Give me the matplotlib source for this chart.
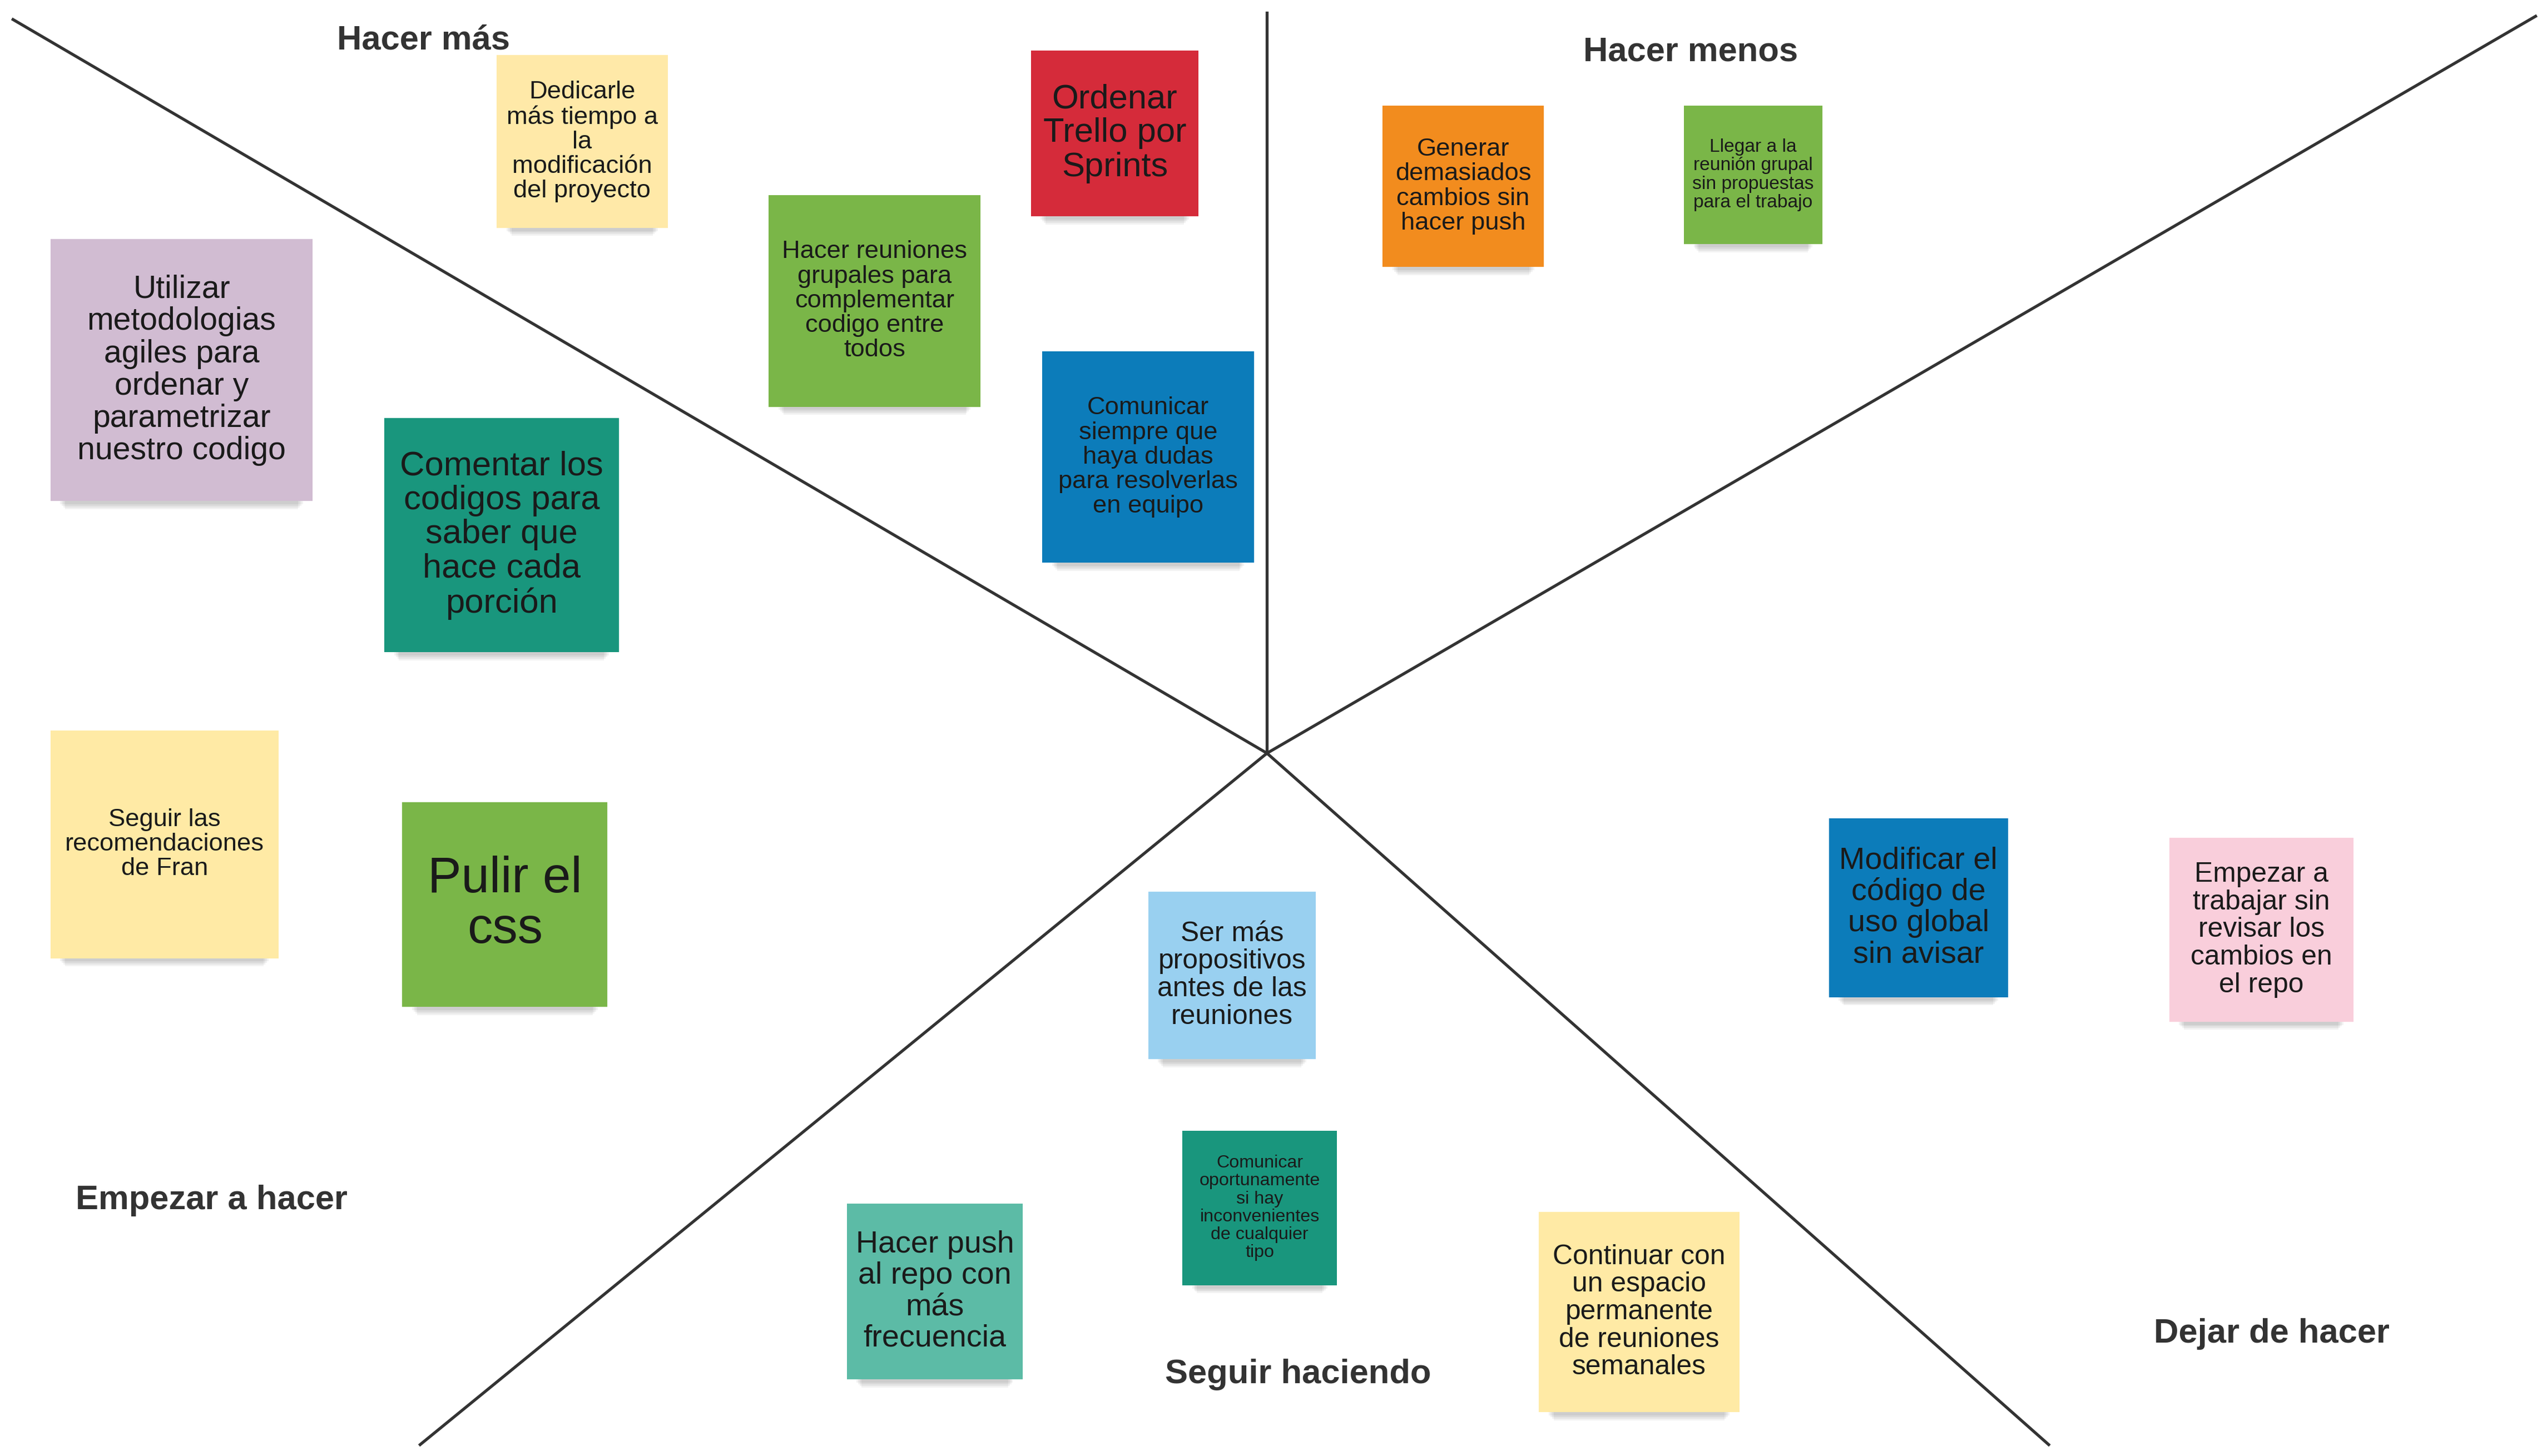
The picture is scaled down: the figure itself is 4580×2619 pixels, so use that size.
import matplotlib.pyplot as plt
from matplotlib.patches import Rectangle

# reference drawn in a 1564 x 895 coordinate space
W, H = 1564, 895
S = 4580 / W
PT = S * 0.72  # px in ref space -> points at dpi 100

center = (778, 463)
line_ends = [(8, 12), (778, 8), (1557, 10), (258, 888), (1258, 888)]

section_labels = ["Hacer más", "Hacer menos", "Empezar a hacer", "Seguir haciendo", "Dejar de hacer"]
label_pos = [(260, 25), (1038, 32), (130, 738), (797, 845), (1395, 820)]

note_texts = [
    "Dedicarle\nmás tiempo a\nla\nmodificación\ndel proyecto",
    "Ordenar\nTrello por\nSprints",
    "Hacer reuniones\ngrupales para\ncomplementar\ncodigo entre\ntodos",
    "Comunicar\nsiempre que\nhaya dudas\npara resolverlas\nen equipo",
    "Generar\ndemasiados\ncambios sin\nhacer push",
    "Llegar a la\nreunión grupal\nsin propuestas\npara el trabajo",
    "Utilizar\nmetodologias\nagiles para\nordenar y\nparametrizar\nnuestro codigo",
    "Comentar los\ncodigos para\nsaber que\nhace cada\nporción",
    "Seguir las\nrecomendaciones\nde Fran",
    "Pulir el\ncss",
    "Ser más\npropositivos\nantes de las\nreuniones",
    "Comunicar\noportunamente\nsi hay\ninconvenientes\nde cualquier\ntipo",
    "Hacer push\nal repo con\nmás\nfrecuencia",
    "Continuar con\nun espacio\npermanente\nde reuniones\nsemanales",
    "Modificar el\ncódigo de\nuso global\nsin avisar",
    "Empezar a\ntrabajar sin\nrevisar los\ncambios en\nel repo",
]
note_boxes = [  # x, y, w, h
    (305, 34, 105, 106), (633, 31, 103, 102), (472, 120, 130, 130), (640, 216, 130, 130),
    (849, 65, 99, 99), (1034, 65, 85, 85), (31, 147, 161, 161), (236, 257, 144, 144),
    (31, 449, 140, 140), (247, 493, 126, 126), (705, 548, 103, 103), (726, 695, 95, 95),
    (520, 740, 108, 108), (945, 745, 123, 123), (1123, 503, 110, 110), (1332, 515, 113, 113),
]
note_colors = [
    "#FFE9A8", "#D52B3A", "#7AB648", "#0C7CBA", "#F28C1E", "#7AB648", "#D1BCD2", "#19967D",
    "#FFEAA5", "#7AB648", "#99D0F0", "#19967D", "#5CBBA6", "#FFEAA5", "#0C7CBA", "#F9CEDB",
]
note_font_px = [15.5, 21, 15.5, 15.5, 15.5, 11.5, 19.5, 21, 15.5, 31, 17, 11, 19, 17, 19, 17]

fig = plt.figure(figsize=(45.8, 26.19), dpi=100)
ax = fig.add_axes([0, 0, 1, 1])
ax.set_xlim(0, W)
ax.set_ylim(H, 0)
ax.axis("off")

for ex, ey in line_ends:
    ax.plot([center[0], ex], [center[1], ey], color="#333333", lw=1.3 * S)

for txt, (lx, ly) in zip(section_labels, label_pos):
    ax.text(lx, ly, txt, ha="center", va="center", fontsize=21 * PT,
            fontweight="bold", color="#333333", family="Liberation Sans")

for txt, (x, y, w, h), c, fs in zip(note_texts, note_boxes, note_colors, note_font_px):
    # soft shadow
    for k in range(4):
        ax.add_patch(Rectangle((x + 6 + k, y + h - 6 + k), w - 12 - 2 * k, 8,
                               color="#000000", alpha=0.05, lw=0, zorder=1))
    ax.add_patch(Rectangle((x, y), w, h, facecolor=c, edgecolor="none", zorder=2))
    ax.text(x + w / 2, y + h / 2, txt, ha="center", va="center", fontsize=fs * PT,
            color="#1a1a1a", family="Liberation Sans", linespacing=1.1, zorder=3)

fig.savefig("out.png", dpi=100, facecolor="white")
